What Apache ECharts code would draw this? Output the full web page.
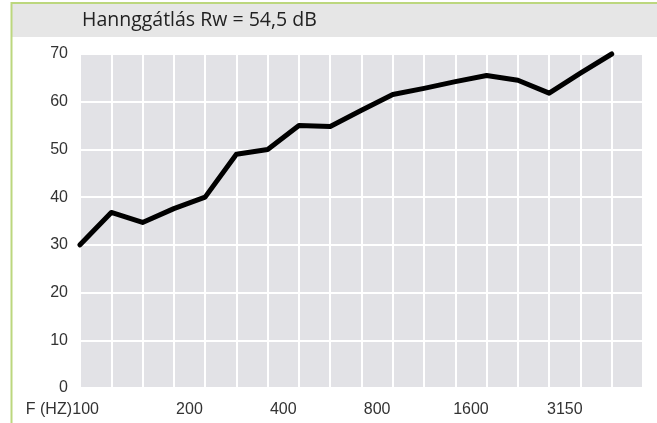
<!DOCTYPE html>
<html>
<head>
<meta charset="utf-8">
<script src="https://cdn.jsdelivr.net/npm/echarts@6/dist/echarts.min.js"></script>
<style>
html,body{margin:0;padding:0;background:#fff;}
#chart{width:657px;height:423px;}
</style>
</head>
<body>
<div id="chart"></div>
<script>
const titleText = 'Hannggátlás Rw = 54,5 dB';
const frequencies = ['100','125','160','200','250','315','400','500','630','800','1000','1250','1600','2000','2500','3150','4000','5000'];
const shownLabels = ['100','200','400','800','1600','3150'];
const soundReduction = [30, 36.8, 34.7, 37.6, 40, 49, 50, 55, 54.8, 58.2, 61.5, 62.8, 64.2, 65.5, 64.5, 61.8, 66, 70];
const yTicks = { min: 0, max: 70, interval: 10 };

const chart = echarts.init(document.getElementById('chart'), null, {renderer: 'canvas'});
const fontAxis = '"Liberation Sans", Arial, sans-serif';

chart.setOption({
  animation: false,
  backgroundColor: '#ffffff',
  graphic: [
    { type: 'rect', shape: { x: 12, y: 4, width: 645, height: 33 }, style: { fill: '#e6e6e6' }, z: -10 },
    { type: 'line', shape: { x1: 11.5, y1: 2, x2: 11.5, y2: 423 }, style: { stroke: '#bcd77e', lineWidth: 2 }, z: -5 },
    { type: 'line', shape: { x1: 11, y1: 3, x2: 657, y2: 3 }, style: { stroke: '#bcd77e', lineWidth: 2 }, z: -5 }
  ],
  title: {
    text: titleText,
    left: 82,
    top: 10,
    padding: 0,
    textStyle: { fontFamily: '"Open Sans", Lato, sans-serif', fontSize: 19.5, fontWeight: 'normal', color: '#222' }
  },
  grid: { left: 80, right: 14, top: 54, bottom: 35, show: true, backgroundColor: '#e2e2e6', borderWidth: 0 },
  xAxis: [
    {
      type: 'category',
      data: frequencies,
      boundaryGap: true,
      name: 'F (HZ)',
      nameLocation: 'start',
      nameGap: 8,
      nameMoveOverlap: false,
      nameTextStyle: { fontFamily: fontAxis, fontSize: 16, color: '#333', align: 'right', verticalAlign: 'top', padding: [14, 0, 0, 0] },
      axisLine: { show: false },
      axisTick: { show: false },
      axisLabel: {
        interval: 0,
        margin: 14,
        fontFamily: fontAxis,
        fontSize: 16,
        color: '#333',
        formatter: function (v, i) {
          if (shownLabels.indexOf(v) < 0) return '';
          return i === 0 ? '{first|' + v + '}' : v;
        },
        rich: { first: { fontFamily: fontAxis, fontSize: 16, color: '#333', padding: [0, 20, 0, 0] } }
      },
      splitLine: { show: true, interval: 0, lineStyle: { color: '#ffffff', width: 2 } }
    },
    {
      type: 'value',
      min: 0,
      max: frequencies.length,
      show: false
    }
  ],
  yAxis: {
    type: 'value',
    min: yTicks.min,
    max: yTicks.max,
    interval: yTicks.interval,
    axisLine: { show: false },
    axisTick: { show: false },
    axisLabel: { margin: 12, fontFamily: fontAxis, fontSize: 16, color: '#333' },
    splitLine: { show: true, lineStyle: { color: '#ffffff', width: 2 } }
  },
  series: [{
    type: 'line',
    xAxisIndex: 1,
    data: soundReduction.map((v, i) => [i, v]),
    symbol: 'none',
    lineStyle: { color: '#000', width: 5, join: 'round', cap: 'round' },
    clip: false
  }]
});
</script>
</body>
</html>
